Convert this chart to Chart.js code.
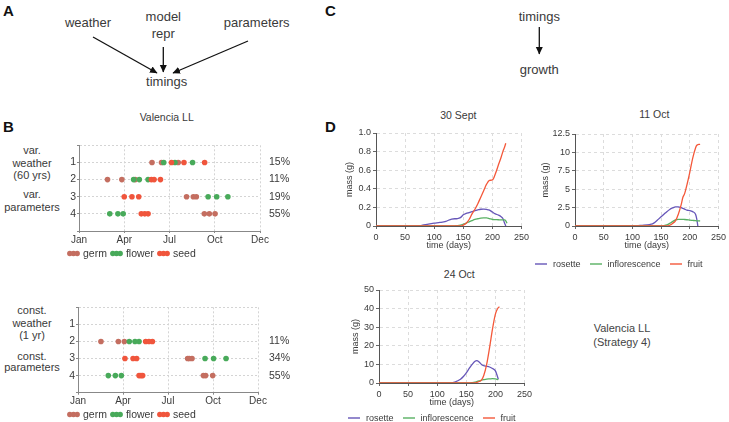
<!DOCTYPE html>
<html>
<head>
<meta charset="utf-8">
<script src="https://cdn.jsdelivr.net/npm/chart.js@4"></script>
<style>
  body { margin: 0; background: #fff; width: 729px; height: 422px; position: relative; overflow: hidden;
         font-family: "Liberation Sans", Arial, sans-serif; color: #3a3a3a; }
  canvas { position: absolute; }
  .t { position: absolute; white-space: nowrap; transform: translate(-50%, -50%); line-height: 1; }
  .blk { position: absolute; white-space: nowrap; transform: translate(-50%, -50%); text-align: center; }
  .lab { position: absolute; font-weight: bold; font-size: 15px; color: #111; line-height: 1; }
  .leg { position: absolute; display: flex; align-items: center; height: 12px; white-space: nowrap; }
</style>
</head>
<body>

<svg width="729" height="422" style="position:absolute;left:0;top:0">
  <defs>
    <marker id="ah" markerWidth="8" markerHeight="8" refX="7" refY="4" orient="auto" markerUnits="userSpaceOnUse">
      <path d="M0,0.5 L7.5,4 L0,7.5 z" fill="#111"/>
    </marker>
  </defs>
  <g stroke="#111" stroke-width="1.3" fill="none">
    <line x1="93" y1="37" x2="157" y2="73" marker-end="url(#ah)"/>
    <line x1="163.3" y1="47" x2="163.3" y2="72" marker-end="url(#ah)"/>
    <line x1="248" y1="41" x2="173" y2="73" marker-end="url(#ah)"/>
    <line x1="539.3" y1="27" x2="539.3" y2="54" marker-end="url(#ah)"/>
  </g>
</svg>

<div class="lab" style="left:3px;top:3px">A</div>
<div class="lab" style="left:3px;top:119px">B</div>
<div class="lab" style="left:325px;top:3px">C</div>
<div class="lab" style="left:325px;top:119px">D</div>

<div class="t" style="left:88px;top:22px;font-size:13px">weather</div>
<div class="t" style="left:163.3px;top:16px;font-size:13px">model</div>
<div class="t" style="left:163.3px;top:32.5px;font-size:13px">repr</div>
<div class="t" style="left:256.7px;top:22px;font-size:13px">parameters</div>
<div class="t" style="left:166.7px;top:81px;font-size:13px">timings</div>
<div class="t" style="left:539.3px;top:15.5px;font-size:13px">timings</div>
<div class="t" style="left:539.3px;top:68.5px;font-size:13px">growth</div>

<div class="t" style="left:166.7px;top:116.7px;font-size:10.5px">Valencia LL</div>
<div class="blk" style="left:32px;top:163px;font-size:11px;line-height:12.5px">var.<br>weather<br>(60 yrs)</div>
<div class="blk" style="left:32px;top:201.3px;font-size:11px;line-height:12.7px">var.<br>parameters</div>
<div class="blk" style="left:32px;top:323.3px;font-size:11px;line-height:12.5px">const.<br>weather<br>(1 yr)</div>
<div class="blk" style="left:32px;top:362.5px;font-size:11px;line-height:11.6px">const.<br>parameters</div>

<div class="t" style="left:458.3px;top:115px;font-size:10.5px">30 Sept</div>
<div class="t" style="left:654.3px;top:114.3px;font-size:10.5px">11 Oct</div>
<div class="t" style="left:459.3px;top:274.3px;font-size:10.5px">24 Oct</div>
<div class="blk" style="left:622px;top:335px;font-size:11px;line-height:14px;color:#444">Valencia LL<br>(Strategy 4)</div>

<canvas id="varChart" width="245" height="118" style="left:55px;top:130px"></canvas>
<canvas id="constChart" width="245" height="120" style="left:55px;top:290px"></canvas>
<canvas id="sepChart" width="194" height="131" style="left:338px;top:125px"></canvas>
<canvas id="octChart" width="195" height="131" style="left:534px;top:125px"></canvas>
<canvas id="lateChart" width="191" height="131" style="left:344px;top:282px"></canvas>

<div class="leg" id="legVar" style="left:67px;top:247px"></div>
<div class="leg" id="legConst" style="left:67px;top:408px"></div>
<div class="leg" id="legMassTop" style="left:535px;top:258px"></div>
<div class="leg" id="legMassBottom" style="left:348px;top:412px"></div>

<script>
// ---- panel B: timings (x in months since Jan) ----
const monthTicks = ["Jan", "Apr", "Jul", "Oct", "Dec"];
const rowTicks = [1, 2, 3, 4];
const stageNames = ["germ", "flower", "seed"];
const stageColors = ["#c46e60", "#48aa5a", "#f0553c"];

const varPct = ["15%", "11%", "19%", "55%"];
const varGerm = [[4.84, 5.47, 6.58], [1.89, 2.84, 3.73], [7.13, 7.58, 7.78], [8.31, 8.64, 9.02]];
const varFlower = [[5.62, 6.36, 7.53], [3.62, 4.0, 4.58], [8.56, 9.13, 9.87], [2.04, 2.58, 2.93]];
const varSeed = [[6.13, 6.96, 8.33], [4.8, 4.98, 5.4], [3.0, 3.51, 3.96], [4.13, 4.36, 4.58]];

const constPct = ["", "11%", "34%", "55%"];
const constGerm = [[], [1.53, 2.69, 3.09], [7.31, 7.42, 7.6], [8.36, 8.51, 8.98]];
const constFlower = [[], [3.42, 3.8, 4.07], [8.47, 9.04, 9.87], [2.02, 2.49, 2.89]];
const constSeed = [[], [4.51, 4.73, 4.96], [3.13, 3.67, 3.91], [4.07, 4.2, 4.31]];

// ---- panel D: mass (g) vs time (days) ----
const massNames = ["rosette", "inflorescence", "fruit"];
const massColors = ["#6656b8", "#58b062", "#f4583a"];

const sepDays = [0, 60, 75, 80, 90, 100, 110, 120, 130, 140, 145, 150, 155, 160, 165, 170, 175, 180, 185, 190, 195, 200, 205, 210, 215, 218, 221, 223, 225];
const sepRosette = [0, 0, 0.003, 0.008, 0.02, 0.03, 0.038, 0.05, 0.075, 0.08, 0.09, 0.12, 0.135, 0.145, 0.155, 0.165, 0.173, 0.18, 0.182, 0.178, 0.17, 0.15, 0.13, 0.118, 0.1, 0.08, 0.03, 0, null];
const sepInflor = [0, 0, 0, 0, 0, 0, 0, 0, 0, 0.005, 0.01, 0.02, 0.032, 0.045, 0.058, 0.07, 0.078, 0.085, 0.088, 0.088, 0.08, 0.07, 0.068, 0.067, 0.065, 0.065, 0.065, 0.055, 0.03];
const sepFruit = [0, 0, 0, 0, 0, 0, 0, 0, 0, 0, 0, 0.01, 0.03, 0.07, 0.13, 0.18, 0.24, 0.31, 0.38, 0.45, 0.49, 0.495, 0.56, 0.65, 0.74, 0.8, 0.85, 0.89, null];

const octDays = [0, 100, 110, 120, 130, 135, 140, 145, 150, 155, 160, 165, 170, 175, 180, 185, 188, 191, 195, 200, 205, 210, 212, 214, 216, 218];
const octRosette = [0, 0, 0.05, 0.1, 0.2, 0.3, 0.55, 0.9, 1.25, 1.6, 1.95, 2.25, 2.45, 2.6, 2.6, 2.5, 2.4, 2.3, 2.15, 2.1, 1.95, 1.6, 1.0, 0, null, null];
const octInflor = [0, 0, 0, 0, 0, 0, 0, 0, 0, 0.05, 0.15, 0.35, 0.6, 0.82, 0.9, 0.9, 0.89, 0.88, 0.85, 0.8, 0.76, 0.72, 0.71, 0.7, 0.69, 0.68];
const octFruit = [0, 0, 0, 0, 0, 0, 0, 0, 0, 0, 0, 0.1, 0.35, 0.7, 1.6, 2.9, 3.9, 4.4, 5.6, 7.3, 9.2, 10.6, 10.95, 11.05, 11.1, 11.1];

const lateDays = [0, 120, 130, 140, 145, 150, 155, 160, 165, 168, 172, 176, 180, 185, 190, 195, 200, 203, 205, 207];
const lateRosette = [0, 0, 0.5, 2, 3.5, 5.5, 7.8, 10, 11.7, 12, 11.3, 10, 9.3, 9, 8.6, 7.8, 6.5, 4, 2, null];
const lateInflor = [0, 0, 0, 0, 0, 0, 0, 0.2, 0.5, 0.8, 1.1, 1.5, 1.8, 2.1, 2.2, 2.3, 2.2, 2.0, 1.8, null];
const lateFruit = [0, 0, 0, 0, 0, 0, 0, 0, 0, 0.3, 0.8, 1.5, 4, 10, 19, 29, 37, 39.5, 40.5, 41];

Chart.defaults.font.family = '"Liberation Sans", Arial, sans-serif';
Chart.defaults.color = "#3a3a3a";

const fixWidth = w => scale => { scale.width = w; };
const fixHeight = h => scale => { scale.height = h; };

function toPoints(rows) {
  return rows.flatMap((months, i) => months.map(m => ({ x: m, y: rowTicks[i] })));
}

function createDotChart(canvasId, stages, pct, leftW, rightW, pctPad) {
  const ctx = document.getElementById(canvasId).getContext("2d");
  return new Chart(ctx, {
    type: "scatter",
    data: {
      datasets: stages.map((rows, k) => ({
        label: stageNames[k],
        data: toPoints(rows),
        backgroundColor: stageColors[k],
        borderWidth: 0,
        pointRadius: 2.8,
        pointHoverRadius: 2.8,
        order: 3 - k
      }))
    },
    options: {
      responsive: false,
      animation: false,
      layout: { padding: { top: 8, left: 0, right: 0, bottom: 0 } },
      plugins: { legend: { display: false }, tooltip: { enabled: false } },
      scales: {
        x: {
          type: "linear", min: 0, max: 12,
          afterFit: fixHeight(17),
          grid: { color: "#d4d4d4", tickLength: 2, tickColor: "#888" },
          border: { color: "#888", dash: [2, 2] },
          ticks: { stepSize: 3, padding: 1, font: { size: 10 }, maxRotation: 0,
                   callback: v => monthTicks[v / 3] }
        },
        y: {
          type: "linear", min: 0, max: 5, reverse: true,
          afterFit: fixWidth(leftW),
          grid: { color: "#d4d4d4", tickLength: 2, tickColor: "#888" },
          border: { color: "#888", dash: [2, 2] },
          ticks: { stepSize: 1, padding: 1, font: { size: 10.5 },
                   callback: v => rowTicks.includes(v) ? String(v) : "" }
        },
        pct: {
          type: "linear", position: "right", min: 0, max: 5, reverse: true,
          afterFit: fixWidth(rightW),
          grid: { display: false, drawTicks: false },
          border: { display: false },
          ticks: { stepSize: 1, padding: pctPad, font: { size: 10.5 },
                   callback: v => pct[v - 1] || "" }
        }
      }
    }
  });
}

function createMassChart(canvasId, days, series, yMax, yStep, leftW, rightPad, topPad) {
  const ctx = document.getElementById(canvasId).getContext("2d");
  return new Chart(ctx, {
    type: "line",
    data: {
      datasets: series.map((vals, k) => ({
        label: massNames[k],
        data: days.map((d, i) => ({ x: d, y: vals[i] })),
        borderColor: massColors[k],
        borderWidth: 1.3,
        pointRadius: 0,
        tension: 0.4,
        cubicInterpolationMode: "monotone",
        fill: false,
        order: 3 - k
      }))
    },
    options: {
      responsive: false,
      animation: false,
      layout: { padding: { top: topPad, left: 0, right: rightPad, bottom: 0 } },
      plugins: { legend: { display: false }, tooltip: { enabled: false } },
      scales: {
        x: {
          type: "linear", min: 0, max: 250,
          afterFit: fixHeight(30),
          grid: { color: "#dcdcdc", tickLength: 3, tickColor: "#666" },
          border: { color: "#555", dash: [3, 3] },
          ticks: { stepSize: 50, padding: 3, font: { size: 9 }, maxRotation: 0 },
          title: { display: true, text: "time (days)", font: { size: 9 }, padding: { top: 0, bottom: 5 } }
        },
        y: {
          type: "linear", min: 0, max: yMax,
          afterFit: fixWidth(leftW),
          grid: { color: "#dcdcdc", tickLength: 3, tickColor: "#666" },
          border: { color: "#555", dash: [3, 3] },
          ticks: { stepSize: yStep, padding: 2, font: { size: 9 } },
          title: { display: true, text: "mass (g)", font: { size: 9 }, padding: { top: 6, bottom: 0 } }
        }
      }
    }
  });
}

function buildLegend(id, names, colors, dots) {
  const box = document.getElementById(id);
  names.forEach((name, k) => {
    const sym = document.createElementNS("http://www.w3.org/2000/svg", "svg");
    if (dots) {
      sym.setAttribute("width", "13");
      sym.setAttribute("height", "7");
      [2.8, 6.5, 10.2].forEach(cx => {
        const c = document.createElementNS("http://www.w3.org/2000/svg", "circle");
        c.setAttribute("cx", cx); c.setAttribute("cy", 3.5); c.setAttribute("r", 2.7);
        c.setAttribute("fill", colors[k]);
        sym.appendChild(c);
      });
    } else {
      sym.setAttribute("width", "12");
      sym.setAttribute("height", "4");
      const l = document.createElementNS("http://www.w3.org/2000/svg", "line");
      l.setAttribute("x1", 0); l.setAttribute("x2", 12); l.setAttribute("y1", 2); l.setAttribute("y2", 2);
      l.setAttribute("stroke", colors[k]); l.setAttribute("stroke-width", 1.4);
      sym.appendChild(l);
    }
    const txt = document.createElement("span");
    txt.textContent = name;
    txt.style.fontSize = dots ? "10.5px" : "9px";
    txt.style.margin = dots ? "0 3px 0 3px" : "0 9px 0 6px";
    box.appendChild(sym);
    box.appendChild(txt);
  });
}

createDotChart("varChart", [varGerm, varFlower, varSeed], varPct, 24, 40, 9);
createDotChart("constChart", [constGerm, constFlower, constSeed], constPct, 23, 42, 11);
createMassChart("sepChart", sepDays, [sepRosette, sepInflor, sepFruit], 1, 0.2, 38, 10, 8);
createMassChart("octChart", octDays, [octRosette, octInflor, octFruit], 12.5, 2.5, 41, 8, 9);
createMassChart("lateChart", lateDays, [lateRosette, lateInflor, lateFruit], 50, 10, 35, 10, 8);

buildLegend("legVar", stageNames, stageColors, true);
buildLegend("legConst", stageNames, stageColors, true);
buildLegend("legMassTop", massNames, massColors, false);
buildLegend("legMassBottom", massNames, massColors, false);
</script>
</body>
</html>
